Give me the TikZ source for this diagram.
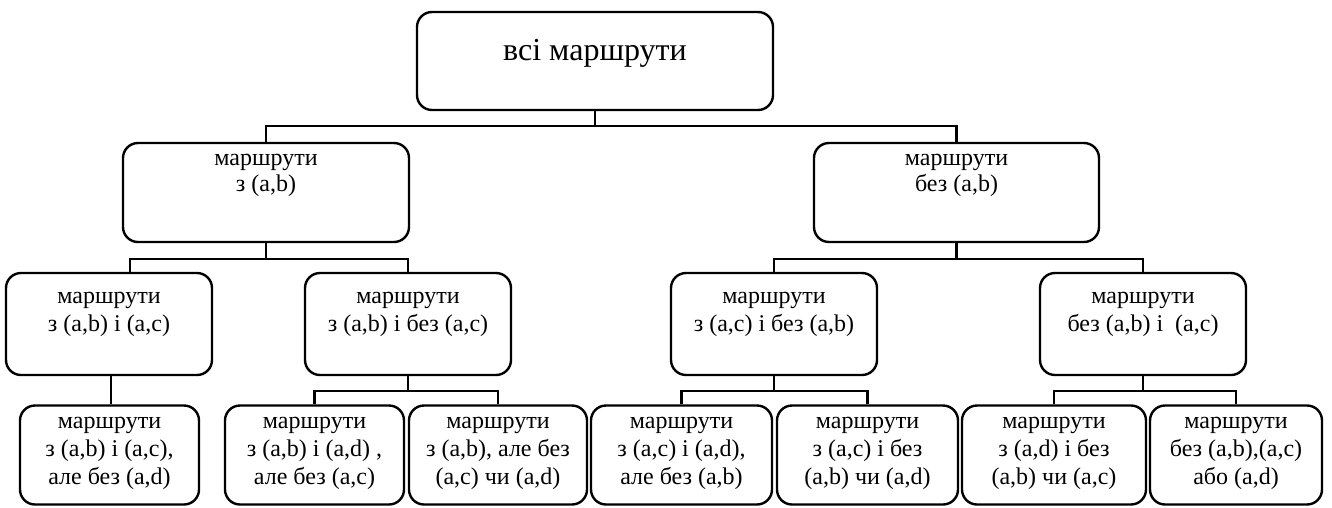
\documentclass[tikz,border=0pt]{standalone}
\usepackage{fontspec}
\setmainfont{LiberationSerif}[Extension=.ttf,UprightFont=*-Regular,BoldFont=*-Bold]
\begin{document}
\begin{tikzpicture}[x=1pt,y=-1pt,
  box/.style={draw,line width=2.4pt,rounded corners=15pt,inner sep=0pt},
  txt/.style={align=center,inner sep=0pt,font=\fontsize{24}{28}\selectfont},
  ltxt/.style={align=center,inner sep=0pt,font=\fontsize{24}{26}\selectfont},
  rtxt/.style={align=center,inner sep=0pt,font=\fontsize{32}{36}\selectfont},
  conn/.style={line width=2.2pt}]
\useasboundingbox (0,0) rectangle (1332,507);
% boxes
\node[box,minimum width=356pt,minimum height=98pt] (root) at (595,61) {};
\node[box,minimum width=286pt,minimum height=99pt] (l1a) at (266,192.5) {};
\node[box,minimum width=285pt,minimum height=99pt] (l1b) at (956.5,192.5) {};
\node[box,minimum width=206pt,minimum height=102pt] (l2a) at (109,324) {};
\node[box,minimum width=206pt,minimum height=102pt] (l2b) at (408,324) {};
\node[box,minimum width=206pt,minimum height=102pt] (l2c) at (774,324) {};
\node[box,minimum width=206pt,minimum height=102pt] (l2d) at (1143,324) {};
\node[box,minimum width=179pt,minimum height=99pt] (l3a) at (109.5,455) {};
\node[box,minimum width=179pt,minimum height=99pt] (l3b) at (314.5,455) {};
\node[box,minimum width=178pt,minimum height=99pt] (l3c) at (498,455) {};
\node[box,minimum width=181pt,minimum height=99pt] (l3d) at (681.5,455) {};
\node[box,minimum width=181pt,minimum height=99pt] (l3e) at (867.5,455) {};
\node[box,minimum width=184pt,minimum height=99pt] (l3f) at (1054,455) {};
\node[box,minimum width=172pt,minimum height=99pt] (l3g) at (1236,455) {};
% texts
\node[rtxt] (troot) at (595,53) {всі маршрути};
\node[ltxt] (tl1a) at (266,175.5) {маршрути\\з (a,b)};
\node[ltxt] (tl1b) at (956.5,175.5) {маршрути\\без (a,b)};
\node[txt] (tl2a) at (109,314) {маршрути\\з (a,b) і (a,c)};
\node[txt] (tl2b) at (408,314) {маршрути\\з (a,b) і без (a,c)};
\node[txt] (tl2c) at (774,314) {маршрути\\з (a,c) і без (a,b)};
\node[txt] (tl2d) at (1143,314) {маршрути\\без (a,b) і\ \ (a,c)};
\node[txt] (tl3a) at (109.5,453) {маршрути\\з (a,b) і (a,c),\\але без (a,d)};
\node[txt] (tl3b) at (314.5,453) {маршрути\\з (a,b) і (a,d) ,\\але без (a,c)};
\node[txt] (tl3c) at (498,453) {маршрути\\з (a,b), але без\\(a,c) чи (a,d)};
\node[txt] (tl3d) at (681.5,453) {маршрути\\з (a,c) і (a,d),\\але без (a,b)};
\node[txt] (tl3e) at (867.5,453) {маршрути\\з (a,c) і без\\(a,b) чи (a,d)};
\node[txt] (tl3f) at (1054,453) {маршрути\\з (a,d) і без\\(a,b) чи (a,c)};
\node[txt] (tl3g) at (1236,453) {маршрути\\без (a,b),(a,c)\\або (a,d)};
% connectors
\draw[conn] (root.south) -- ++(0,15) -| (l1a.north);
\draw[conn] (root.south) -- ++(0,15) -| (l1b.north);
\draw[conn] (l1a.south) -- ++(0,16) -| ([xshift=21pt]l2a.north);
\draw[conn] (l1a.south) -- ++(0,16) -| (l2b.north);
\draw[conn] (l1b.south) -- ++(0,16) -| (l2c.north);
\draw[conn] (l1b.south) -- ++(0,16) -| (l2d.north);
\draw[conn] ([xshift=2pt]l2a.south) -- ([xshift=1.5pt]l3a.north);
\draw[conn] (l2b.south) -- ++(0,15) -| (l3b.north);
\draw[conn] (l2b.south) -- ++(0,15) -| (l3c.north);
\draw[conn] (l2c.south) -- ++(0,15) -| (l3d.north);
\draw[conn] (l2c.south) -- ++(0,15) -| (l3e.north);
\draw[conn] (l2d.south) -- ++(0,15) -| (l3f.north);
\draw[conn] (l2d.south) -- ++(0,15) -| (l3g.north);
\end{tikzpicture}
\end{document}
